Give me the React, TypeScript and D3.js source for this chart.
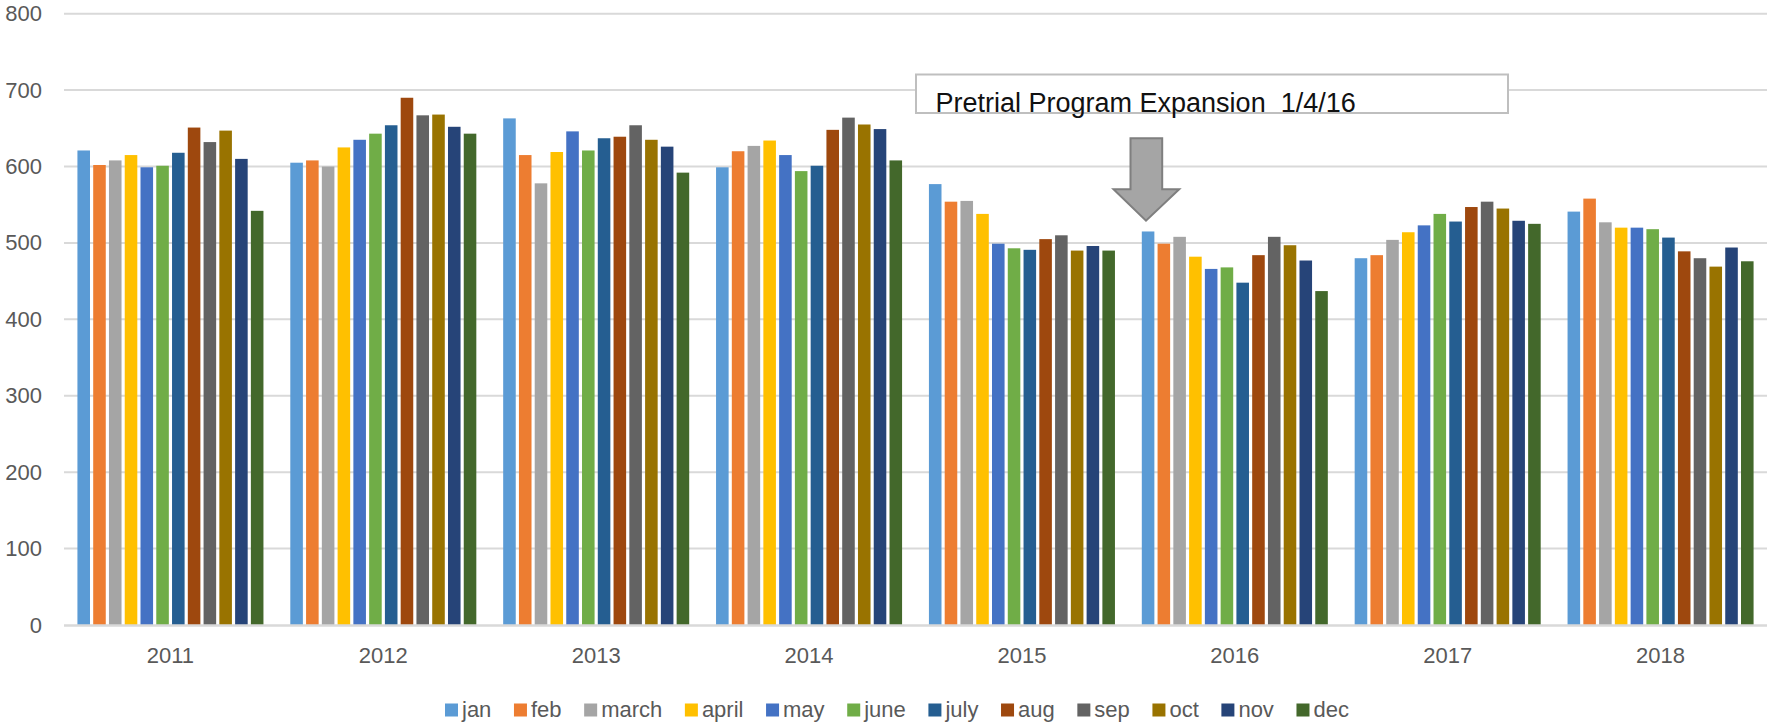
import React, { useEffect, useRef } from "react";
import * as d3 from "d3";

const years = ["2011", "2012", "2013", "2014", "2015", "2016", "2017", "2018"];
const months = ["jan", "feb", "march", "april", "may", "june", "july", "aug", "sep", "oct", "nov", "dec"];
const monthColors = ["#5B9BD5", "#ED7D31", "#A5A5A5", "#FFC000", "#4472C4", "#70AD47", "#255E91", "#9E480E", "#636363", "#997300", "#264478", "#43682B"];

const v2011 = [621, 602, 608, 615, 599, 601, 618, 651, 632, 647, 610, 542];
const v2012 = [605, 608, 600, 625, 635, 643, 654, 690, 667, 668, 652, 643];
const v2013 = [663, 615, 578, 619, 646, 621, 637, 639, 654, 635, 626, 592];
const v2014 = [599, 620, 627, 634, 615, 594, 601, 648, 664, 655, 649, 608];
const v2015 = [577, 554, 555, 538, 499, 493, 491, 505, 510, 490, 496, 490];
const v2016 = [515, 499, 508, 482, 466, 468, 448, 484, 508, 497, 477, 437];
const v2017 = [480, 484, 504, 514, 523, 538, 528, 547, 554, 545, 529, 525];
const v2018 = [541, 558, 527, 520, 520, 518, 507, 489, 480, 469, 494, 476];
const seriesByYear = [v2011, v2012, v2013, v2014, v2015, v2016, v2017, v2018];

const yTicks = [0, 100, 200, 300, 400, 500, 600, 700, 800];
const annotationText = "Pretrial Program Expansion  1/4/16";

const W = 1767;
const H = 725;
const FONT = "'Liberation Sans', Arial, sans-serif";

export default function App() {
  const ref = useRef<SVGSVGElement | null>(null);

  useEffect(() => {
    const svg = d3.select(ref.current);
    svg.selectAll("*").remove();

    const x0 = d3.scaleBand<string>().domain(years).range([64, 1767]).padding(0);
    const x1 = d3.scaleBand<string>().domain(months).range([0, x0.bandwidth()]).paddingInner(0).paddingOuter(0.75);
    const y = d3.scaleLinear().domain([0, 800]).range([625, 13.7]);

    // gridlines
    const grid = svg.append("g");
    grid.selectAll("line")
      .data(yTicks.filter((t) => t !== 0))
      .join("line")
      .attr("x1", 64)
      .attr("x2", 1767)
      .attr("y1", (d) => y(d))
      .attr("y2", (d) => y(d))
      .attr("stroke", "#d9d9d9")
      .attr("stroke-width", 2);

    // y tick labels
    svg.append("g").selectAll("text")
      .data(yTicks)
      .join("text")
      .attr("x", 42)
      .attr("y", (d) => y(d) + 7.5)
      .attr("text-anchor", "end")
      .attr("font-family", FONT)
      .attr("font-size", 22)
      .attr("fill", "#595959")
      .text((d) => String(d));

    // bars
    const groups = svg.append("g").selectAll("g")
      .data(years)
      .join("g")
      .attr("transform", (d) => `translate(${x0(d)},0)`);

    const inset = 1.6;
    groups.selectAll("rect")
      .data((yr, i) => seriesByYear[i].map((v, j) => ({ m: months[j], v, c: monthColors[j] })))
      .join("rect")
      .attr("x", (d) => x1(d.m)! + inset)
      .attr("width", x1.bandwidth() - 2 * inset)
      .attr("y", (d) => y(d.v))
      .attr("height", (d) => y(0) - y(d.v))
      .attr("fill", (d) => d.c);

    // baseline axis
    svg.append("line")
      .attr("x1", 64)
      .attr("x2", 1767)
      .attr("y1", y(0) + 0.5)
      .attr("y2", y(0) + 0.5)
      .attr("stroke", "#d9d9d9")
      .attr("stroke-width", 2.5);

    // year labels
    svg.append("g").selectAll("text")
      .data(years)
      .join("text")
      .attr("x", (d) => x0(d)! + x0.bandwidth() / 2)
      .attr("y", 663)
      .attr("text-anchor", "middle")
      .attr("font-family", FONT)
      .attr("font-size", 22)
      .attr("fill", "#595959")
      .text((d) => d);

    // annotation box
    svg.append("rect")
      .attr("x", 916)
      .attr("y", 74.5)
      .attr("width", 592)
      .attr("height", 38.5)
      .attr("fill", "#ffffff")
      .attr("stroke", "#bfbfbf")
      .attr("stroke-width", 2);
    svg.append("text")
      .attr("x", 935.5)
      .attr("y", 111.5)
      .attr("font-family", FONT)
      .attr("font-size", 27)
      .attr("fill", "#111111")
      .style("white-space", "pre")
      .attr("xml:space", "preserve")
      .text(annotationText);

    // arrow
    const arrow = d3.path();
    arrow.moveTo(1130.5, 138.3);
    arrow.lineTo(1162.2, 138.3);
    arrow.lineTo(1162.2, 189.3);
    arrow.lineTo(1179.2, 189.3);
    arrow.lineTo(1146, 220.7);
    arrow.lineTo(1113.5, 189.3);
    arrow.lineTo(1130.5, 189.3);
    arrow.closePath();
    svg.append("path")
      .attr("d", arrow.toString())
      .attr("fill", "#a5a5a5")
      .attr("stroke", "#7f7f7f")
      .attr("stroke-width", 2);

    // legend
    const legend = svg.append("g");
    let lx = 445;
    months.forEach((m, i) => {
      legend.append("rect")
        .attr("x", lx)
        .attr("y", 703.5)
        .attr("width", 13)
        .attr("height", 13)
        .attr("fill", monthColors[i]);
      const t = legend.append("text")
        .attr("x", lx + 17)
        .attr("y", 717)
        .attr("font-family", FONT)
        .attr("font-size", 22)
        .attr("fill", "#595959")
        .text(m);
      const tw = (t.node() as SVGTextElement).getComputedTextLength();
      lx = lx + 17 + tw + 22.6;
    });
  }, []);

  return (
    <svg
      ref={ref}
      width={W}
      height={H}
      style={{ position: "absolute", left: 0, top: 0, display: "block", background: "#ffffff" }}
    />
  );
}
